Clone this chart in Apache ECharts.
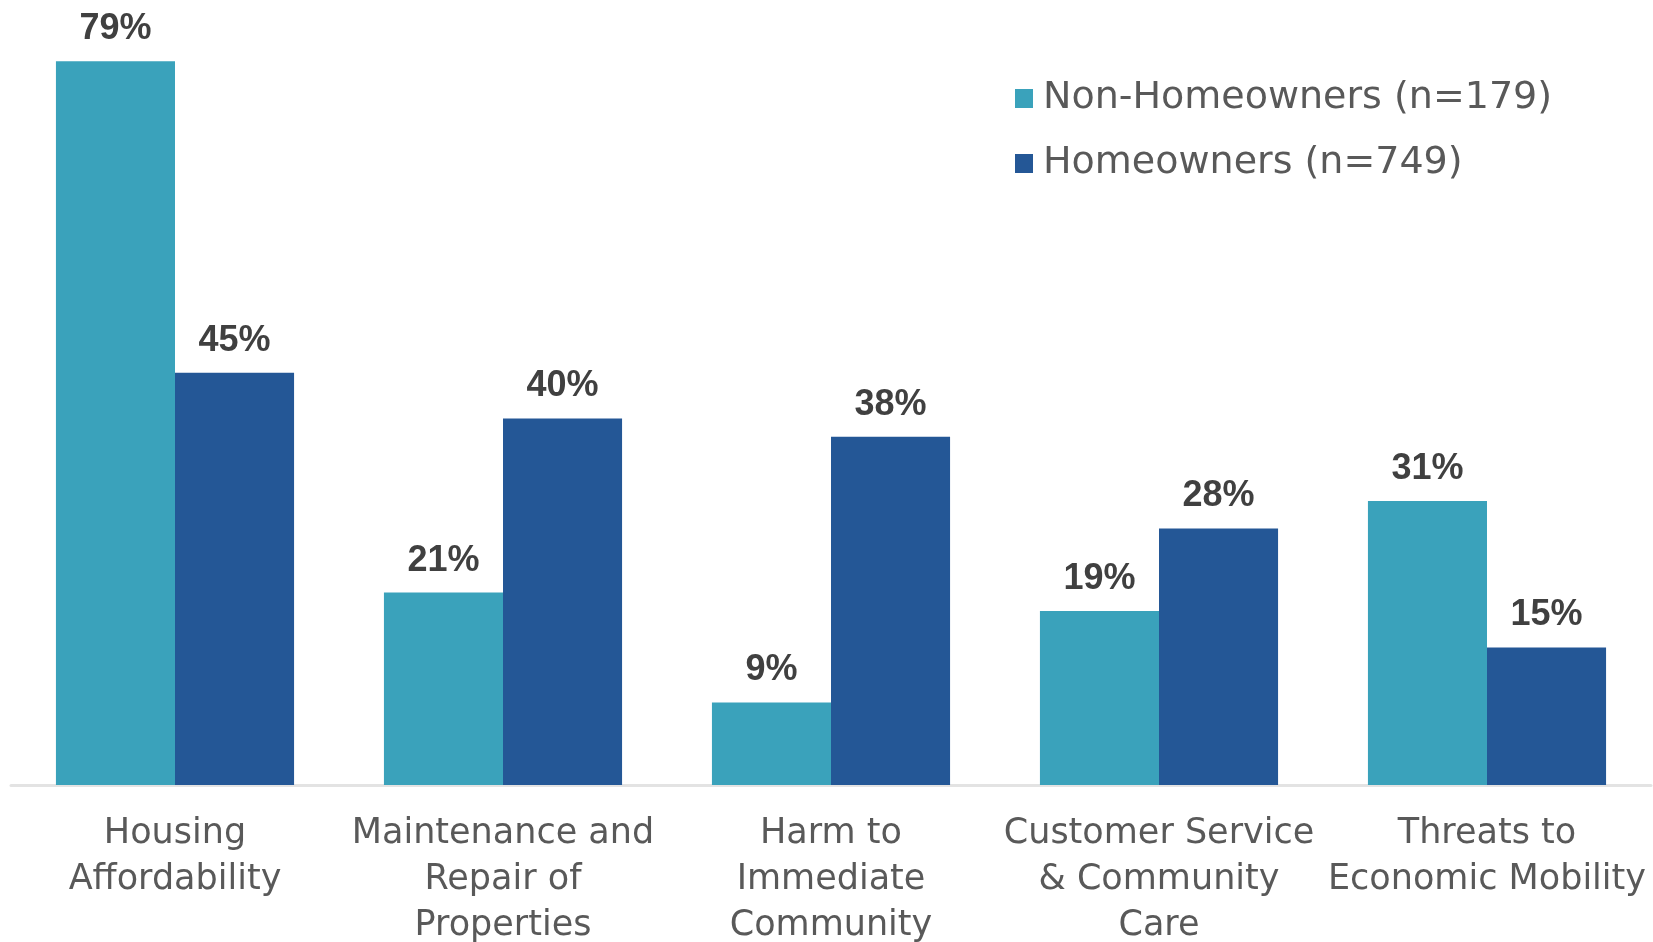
<!DOCTYPE html>
<html>
<head>
<meta charset="utf-8">
<script src="https://cdn.jsdelivr.net/npm/echarts@6/dist/echarts.min.js"></script>
<style>
html,body{margin:0;padding:0;background:#fff;}
#chart{width:1653px;height:942px;}
</style>
</head>
<body>
<div id="chart"></div>
<script>
const categories = [
  "Housing\nAffordability",
  "Maintenance and\nRepair of\nProperties",
  "Harm to\nImmediate\nCommunity",
  "Customer Service\n& Community\nCare",
  "Threats to\nEconomic Mobility"
];
const seriesNames = ["Non-Homeowners (n=179)", "Homeowners (n=749)"];
const nonHomeowners = [79, 21, 9, 19, 31];
const homeowners = [45, 40, 38, 28, 15];

const FONT = "'Liberation Sans', Arial, sans-serif";
const WIDE = "'DejaVu Sans', sans-serif";
const chart = echarts.init(document.getElementById('chart'));
const labelStyle = {
  show: true,
  position: 'top',
  distance: 14,
  formatter: '{c}%',
  fontFamily: FONT,
  fontSize: 36,
  fontWeight: 'bold',
  color: '#404040'
};
chart.setOption({
  animation: false,
  backgroundColor: '#ffffff',
  grid: { left: 11, right: 2, top: 52, bottom: 157, containLabel: false, outerBoundsMode: 'none' },
  legend: {
    orient: 'vertical',
    left: 1010,
    top: 73,
    icon: 'rect',
    itemWidth: 18,
    itemHeight: 19,
    itemGap: 24,
    textStyle: { fontFamily: WIDE, fontSize: 38, color: '#595959', lineHeight: 41, padding: [0, 0, 0, 5] },
    data: seriesNames
  },
  xAxis: {
    type: 'category',
    data: categories,
    axisLine: { show: true, lineStyle: { color: '#e3e3e3', width: 3 } },
    axisTick: { show: false },
    axisLabel: {
      interval: 0,
      margin: 26,
      fontFamily: WIDE,
      fontSize: 35,
      lineHeight: 46,
      color: '#595959'
    }
  },
  yAxis: {
    type: 'value',
    min: 0,
    max: 80,
    show: false,
    splitLine: { show: false }
  },
  series: [
    {
      name: seriesNames[0],
      type: 'bar',
      data: nonHomeowners,
      barGap: '0%',
      barCategoryGap: '27.4%',
      itemStyle: { color: '#3AA2BB' },
      label: labelStyle
    },
    {
      name: seriesNames[1],
      type: 'bar',
      data: homeowners,
      barGap: '0%',
      barCategoryGap: '27.4%',
      itemStyle: { color: '#245796' },
      label: labelStyle
    }
  ]
});
</script>
</body>
</html>
